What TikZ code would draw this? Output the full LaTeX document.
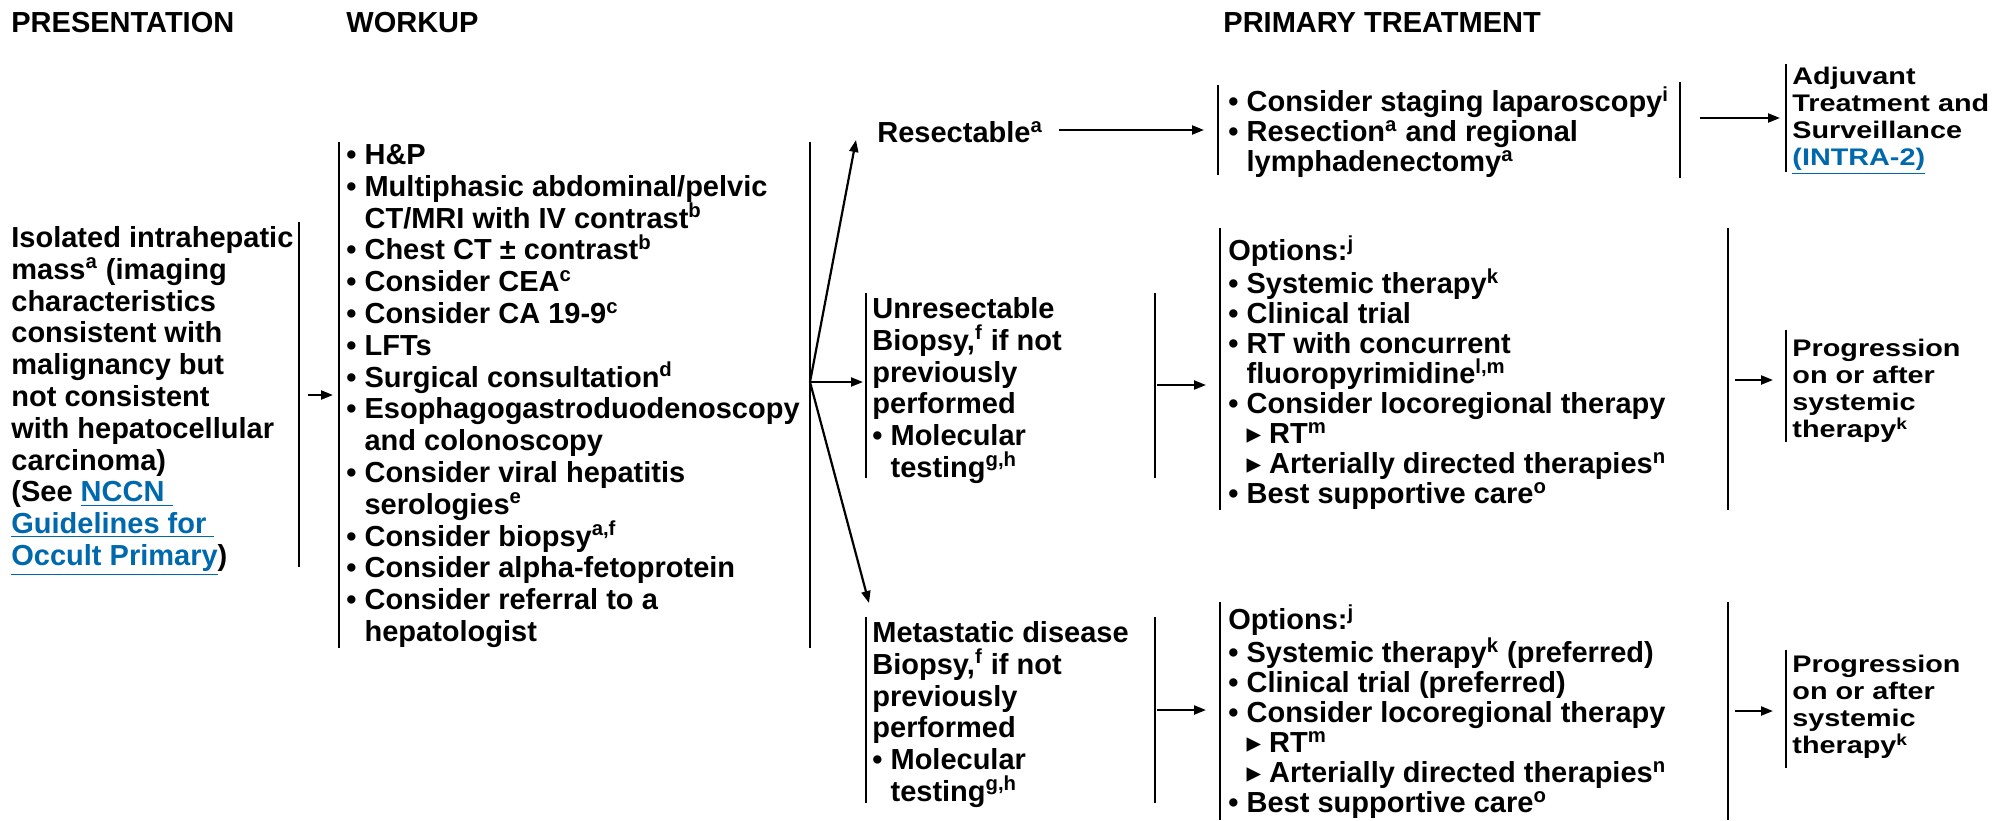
\documentclass[tikz,border=0pt]{standalone}
\usepackage{fontspec}
\setmainfont{Liberation Sans}
\newfontfamily\widefont{Liberation Sans}[FakeStretch=1.2]
\newfontfamily\symfont{DejaVu Sans}
\usetikzlibrary{arrows.meta, positioning}

\definecolor{linkblue}{RGB}{0,104,172}
\newcommand\bodyfont{\fontsize{14.5}{15.9}\selectfont\bfseries}
\newcommand\optfont{\fontsize{14.5}{15}\selectfont\bfseries}
\newcommand\sidefont{\widefont\fontsize{12}{13.5}\selectfont\bfseries}
\newcommand\lnk[1]{\textcolor{linkblue}{\underline{#1}}}
\newcommand\tri{{\symfont ▸}}
\newcommand\ind{\phantom{• }}

\begin{document}
\begin{tikzpicture}[x=0.5pt, y=-0.5pt,
    txt/.style={anchor=north west, inner sep=0pt, align=left, font=\bodyfont},
    opt/.style={anchor=north west, inner sep=0pt, align=left, font=\optfont},
    side/.style={anchor=north west, inner sep=0pt, align=left, font=\sidefont},
    hdr/.style={anchor=west, inner sep=0pt, font=\bodyfont},
    bar/.style={line width=1.1pt},
    arr/.style={line width=1.1pt, -{Triangle[length=6pt,width=4.5pt]}}]

    \useasboundingbox (0,0) rectangle (1997,820);

    % Column headings
    \node[hdr] (hpres) at (11,23) {PRESENTATION};
    \node[hdr] (hwork) at (346,23) {WORKUP};
    \node[hdr] (hprim) at (1223,23) {PRIMARY TREATMENT};

    % Presentation
    \node[txt] (pres) at (11,226) {Isolated intrahepatic\\
        mass\textsuperscript{a} (imaging\\
        characteristics\\
        consistent with\\
        malignancy but\\
        not consistent\\
        with hepatocellular\\
        carcinoma)\\
        (See \lnk{NCCN\ }\\
        \lnk{Guidelines for\ }\\
        \lnk{Occult Primary})};
    \draw[bar] (299,222) -- (299,567);

    % Workup
    \node[txt] (work) at (346,144) {• H\&P\\
        • Multiphasic abdominal/pelvic\\
        \ind CT/MRI with IV contrast\textsuperscript{b}\\
        • Chest CT ± contrast\textsuperscript{b}\\
        • Consider CEA\textsuperscript{c}\\
        • Consider CA 19-9\textsuperscript{c}\\
        • LFTs\\
        • Surgical consultation\textsuperscript{d}\\
        • Esophagogastroduodenoscopy\\
        \ind and colonoscopy\\
        • Consider viral hepatitis\\
        \ind serologies\textsuperscript{e}\\
        • Consider biopsy\textsuperscript{a,f}\\
        • Consider alpha-fetoprotein\\
        • Consider referral to a\\
        \ind hepatologist};
    \draw[bar] (339,142) -- (339,648);
    \draw[bar] (810,142) -- (810,648);

    \coordinate (presout) at (308,395);
    \coordinate (workin) at (333,395);
    \draw[arr] (presout) -- (workin);

    % Branches
    \coordinate (fan) at (810,382);
    \coordinate (resin) at (856,140);
    \coordinate (unrin) at (863,382);
    \coordinate (metin) at (869,603);
    \draw[arr] (fan) -- (resin);
    \draw[arr] (fan) -- (unrin);
    \draw[arr] (fan) -- (metin);

    % Resectable
    \node[hdr] (resect) at (877,132) {Resectable\textsuperscript{a}};
    \coordinate (resout) at (1059,130);
    \coordinate (stagein) at (1204,130);
    \draw[arr] (resout) -- (stagein);

    \node[opt] (stage) at (1228,86) {• Consider staging laparoscopy\textsuperscript{i}\\
        • Resection\textsuperscript{a} and regional\\
        \ind lymphadenectomy\textsuperscript{a}};
    \draw[bar] (1218,85) -- (1218,175);
    \draw[bar] (1680,82) -- (1680,178);

    \coordinate (stageout) at (1700,118);
    \coordinate (adjin) at (1780,118);
    \draw[arr] (stageout) -- (adjin);

    \node[side] (adjuv) at (1792,67) {Adjuvant\\
        Treatment and\\
        Surveillance\\
        \lnk{(INTRA-2)}};
    \draw[bar] (1786,64) -- (1786,172);

    % Unresectable
    \node[txt] (unres) at (872,297) {Unresectable\\
        Biopsy,\textsuperscript{f} if not\\
        previously\\
        performed\\
        • Molecular\\
        \ind testing\textsuperscript{g,h}};
    \draw[bar] (866,293) -- (866,478);
    \draw[bar] (1155,293) -- (1155,478);

    \coordinate (unrout) at (1157,385);
    \coordinate (opt1in) at (1206,385);
    \draw[arr] (unrout) -- (opt1in);

    \node[opt] (opt1) at (1228,235) {Options:\textsuperscript{j}\\
        • Systemic therapy\textsuperscript{k}\\
        • Clinical trial\\
        • RT with concurrent\\
        \ind fluoropyrimidine\textsuperscript{l,m}\\
        • Consider locoregional therapy\\
        \ind\tri\ RT\textsuperscript{m}\\
        \ind\tri\ Arterially directed therapies\textsuperscript{n}\\
        • Best supportive care\textsuperscript{o}};
    \draw[bar] (1220,228) -- (1220,510);
    \draw[bar] (1728,228) -- (1728,510);

    \coordinate (opt1out) at (1735,380);
    \coordinate (prog1in) at (1773,380);
    \draw[arr] (opt1out) -- (prog1in);

    \node[side] (prog1) at (1792,339) {Progression\\
        on or after\\
        systemic\\
        therapy\textsuperscript{k}};
    \draw[bar] (1786,330) -- (1786,442);

    % Metastatic disease
    \node[txt] (meta) at (872,621) {Metastatic disease\\
        Biopsy,\textsuperscript{f} if not\\
        previously\\
        performed\\
        • Molecular\\
        \ind testing\textsuperscript{g,h}};
    \draw[bar] (866,617) -- (866,803);
    \draw[bar] (1155,617) -- (1155,803);

    \coordinate (metout) at (1157,710);
    \coordinate (opt2in) at (1206,710);
    \draw[arr] (metout) -- (opt2in);

    \node[opt] (opt2) at (1228,604) {Options:\textsuperscript{j}\\
        • Systemic therapy\textsuperscript{k} (preferred)\\
        • Clinical trial (preferred)\\
        • Consider locoregional therapy\\
        \ind\tri\ RT\textsuperscript{m}\\
        \ind\tri\ Arterially directed therapies\textsuperscript{n}\\
        • Best supportive care\textsuperscript{o}};
    \draw[bar] (1220,602) -- (1220,820);
    \draw[bar] (1728,602) -- (1728,820);

    \coordinate (opt2out) at (1735,711);
    \coordinate (prog2in) at (1773,711);
    \draw[arr] (opt2out) -- (prog2in);

    \node[side] (prog2) at (1792,655) {Progression\\
        on or after\\
        systemic\\
        therapy\textsuperscript{k}};
    \draw[bar] (1786,650) -- (1786,768);

\end{tikzpicture}
\end{document}
